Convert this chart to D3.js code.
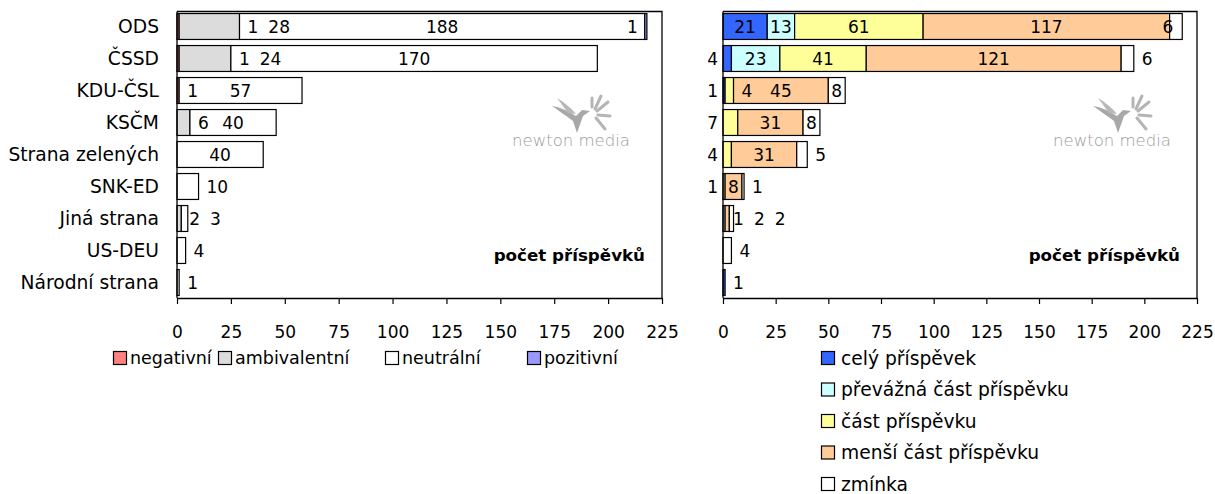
<!DOCTYPE html>
<html>
<head>
<meta charset="utf-8">
<script src="https://cdn.jsdelivr.net/npm/d3@7"></script>
<style>
  body { margin: 0; background: #fff; }
  svg { display: block; font-family: 'DejaVu Sans', sans-serif; }
</style>
</head>
<body>
<svg id="chart" width="1215" height="494"></svg>
<script>
// strany
const categories = ['ODS', 'ČSSD', 'KDU-ČSL', 'KSČM', 'Strana zelených', 'SNK-ED', 'Jiná strana', 'US-DEU', 'Národní strana']

// levý graf - vyznění
const toneNames = ['negativní', 'ambivalentní', 'neutrální', 'pozitivní']
const toneColors = ['#ff8080', '#dcdcdc', '#ffffff', '#9999ff']
const negativni = [1, 1, 1, 0, 0, 0, 0, 0, 0]
const ambivalentni = [28, 24, 0, 6, 0, 0, 2, 0, 0]
const neutralni = [188, 170, 57, 40, 40, 10, 3, 4, 1]
const pozitivni = [1, 0, 0, 0, 0, 0, 0, 0, 0]

// pravý graf - rozsah
const extentNames = ['celý příspěvek', 'převážná část příspěvku', 'část příspěvku', 'menší část příspěvku', 'zmínka']
const extentColors = ['#3366ff', '#ccffff', '#ffff99', '#ffcc99', '#ffffff']
const cely = [21, 4, 1, 0, 0, 0, 0, 0, 1]
const prevazna = [13, 23, 0, 0, 0, 0, 1, 0, 0]
const cast = [61, 41, 4, 7, 4, 1, 0, 0, 0]
const mensi = [117, 121, 45, 31, 31, 8, 2, 0, 0]
const zminka = [6, 6, 8, 8, 5, 1, 2, 4, 0]

const xTicks = [0, 25, 50, 75, 100, 125, 150, 175, 200, 225]

const svg = d3.select('#chart')
const NUM_FS = 17
const TXT_FS = 18.7
const plotTop = 11.5
const plotBottom = 298

const y = d3.scaleBand()
  .domain(categories)
  .range([10.5, 298.5])
  .paddingInner(0.19)
  .paddingOuter(0.095)

function drawLogo(g, x0, y0) {
  const logo = g.append('g').attr('transform', `translate(${x0},${y0})`)
  const b = logo.append('g').attr('transform', 'translate(40,-52)').attr('fill', '#a8a8a8')
  // ptáček
  b.append('path').attr('d', 'M0,12 C8,13 16,17 24,22 L30,16 L38,17 L31,22 C29,28 27,33 25,39 L21,27 C14,22 6,16 0,12 Z')
  b.append('path').attr('d', 'M5,4 C12,8 18,13 24,20 L16,19 Z').attr('fill', '#b8b8b8')
  // jiskry
  const sparks = [[43, 15, 49, 2], [45, 17, 56, 8], [46, 21, 58, 22], [44, 24, 53, 35], [40, 13, 40, 4]]
  b.selectAll('line').data(sparks).join('line')
    .attr('x1', d => d[0]).attr('y1', d => d[1]).attr('x2', d => d[2]).attr('y2', d => d[3])
    .attr('stroke', '#b5b5b5').attr('stroke-width', 3).attr('stroke-linecap', 'round')
  logo.append('text')
    .attr('x', 0).attr('y', 0)
    .attr('fill', '#9c9c9c')
    .attr('font-size', 16)
    .attr('font-weight', 200)
    .attr('textLength', 118)
    .attr('lengthAdjust', 'spacingAndGlyphs')
    .text('newton media')
}

function layoutLabels(segs, x, opts) {
  const gap = 10
  const pad = 8
  const barStart = segs.length ? segs[0].x0 : 0
  const barEnd = segs.length ? segs[segs.length - 1].x1 : 0
  let cursor = -Infinity
  const out = []
  segs.forEach((s, i) => {
    const w = String(s.v).length * 0.636 * NUM_FS
    const width = s.x1 - s.x0
    let left
    if (s.k < opts.lead) {
      left = Math.max(opts.leadEnd + pad, cursor)
    } else if (width >= w + 5) {
      left = Math.max(s.x0 + width / 2 - w / 2, cursor)
    } else if (i === 0 && opts.outsideLeft && barEnd - barStart > 15) {
      left = s.x0 - 5 - w
    } else {
      left = Math.max(s.x1 + pad, cursor)
      if (left + w > x.range()[1] - 6) left = barEnd - 9 - w
    }
    out.push({ v: s.v, x: left + w / 2, cat: s.cat })
    cursor = left + w + gap
  })
  return out
}

function drawPanel(opts) {
  const x = d3.scaleLinear().domain([0, 225]).range([opts.x0, opts.x1])
  const g = svg.append('g')

  const table = categories.map((c, i) => {
    const row = { cat: c }
    opts.names.forEach((n, k) => { row[n] = opts.series[k][i] })
    return row
  })
  const stacked = d3.stack().keys(opts.names)(table)

  drawLogo(g, opts.logoX, 146)

  g.append('text')
    .attr('x', opts.x1 - 17)
    .attr('y', 261)
    .attr('text-anchor', 'end')
    .attr('font-size', 16.7)
    .attr('font-weight', 'bold')
    .text('počet příspěvků')

  // pruhy
  stacked.forEach((layer, k) => {
    g.append('g')
      .selectAll('rect')
      .data(layer.filter(d => d[1] - d[0] > 0))
      .join('rect')
      .attr('x', d => x(d[0]))
      .attr('y', d => y(d.data.cat))
      .attr('width', d => x(d[1]) - x(d[0]))
      .attr('height', y.bandwidth())
      .attr('fill', opts.colors[k])
      .attr('stroke', '#000')
      .attr('stroke-width', 1.2)
  })

  // popisky hodnot
  const labels = []
  table.forEach((row, i) => {
    const segs = []
    stacked.forEach((layer, k) => {
      const d = layer[i]
      if (d[1] - d[0] > 0) segs.push({ k, v: d[1] - d[0], x0: x(d[0]), x1: x(d[1]), cat: row.cat })
    })
    const leadEnd = x(d3.sum(opts.names.slice(0, opts.lead), n => row[n]))
    labels.push(...layoutLabels(segs, x, { lead: opts.lead, leadEnd, outsideLeft: opts.outsideLeft }))
  })
  g.append('g')
    .selectAll('text')
    .data(labels)
    .join('text')
    .attr('x', d => d.x)
    .attr('y', d => y(d.cat) + y.bandwidth() / 2)
    .attr('dy', '0.36em')
    .attr('text-anchor', 'middle')
    .attr('font-size', NUM_FS)
    .text(d => d.v)

  // rámeček
  g.append('path')
    .attr('d', `M${opts.x0},${plotTop}H${opts.x1}V${plotBottom}`)
    .attr('fill', 'none')
    .attr('stroke', '#000')
    .attr('stroke-width', 1.3)
  g.append('line')
    .attr('x1', opts.x0).attr('x2', opts.x0)
    .attr('y1', plotTop).attr('y2', plotBottom)
    .attr('stroke', '#000').attr('stroke-width', 1.3)

  const axis = g.append('g')
    .attr('transform', `translate(0,${plotBottom})`)
    .call(d3.axisBottom(x).tickValues(xTicks).tickSize(6).tickPadding(22).tickSizeOuter(0))
    .attr('font-size', NUM_FS)
    .attr('font-family', 'DejaVu Sans, sans-serif')
  axis.select('.domain').attr('stroke', '#000').attr('stroke-width', 1.3)
  axis.selectAll('.tick line').attr('stroke', '#000').attr('stroke-width', 1.2)
  axis.selectAll('.tick text').attr('fill', '#000')

  return x
}

drawPanel({
  x0: 177, x1: 662, names: toneNames, colors: toneColors,
  series: [negativni, ambivalentni, neutralni, pozitivni],
  lead: 2, outsideLeft: false, logoX: 512
})

drawPanel({
  x0: 723, x1: 1197, names: extentNames, colors: extentColors,
  series: [cely, prevazna, cast, mensi, zminka],
  lead: 0, outsideLeft: true, logoX: 1053
})

// názvy stran
svg.append('g')
  .selectAll('text')
  .data(categories)
  .join('text')
  .attr('x', 159)
  .attr('y', d => y(d) + y.bandwidth() / 2)
  .attr('dy', '0.36em')
  .attr('text-anchor', 'end')
  .attr('font-size', TXT_FS)
  .text(d => d)

// legenda vlevo
const legendLeftX = [113, 218, 385, 527]
const legL = svg.append('g')
  .selectAll('g')
  .data(toneNames)
  .join('g')
  .attr('transform', (d, i) => `translate(${legendLeftX[i]},358)`)
legL.append('rect')
  .attr('x', 0.5).attr('y', -6.5).attr('width', 13).attr('height', 13)
  .attr('fill', (d, i) => toneColors[i]).attr('stroke', '#000').attr('stroke-width', 1.2)
legL.append('text')
  .attr('x', 17).attr('dy', '0.36em')
  .attr('font-size', 17.5)
  .text(d => d)

// legenda vpravo
const legR = svg.append('g')
  .selectAll('g')
  .data(extentNames)
  .join('g')
  .attr('transform', (d, i) => `translate(821,${358 + i * 31.5})`)
legR.append('rect')
  .attr('x', 0.5).attr('y', -6.5).attr('width', 13).attr('height', 13)
  .attr('fill', (d, i) => extentColors[i]).attr('stroke', '#000').attr('stroke-width', 1.2)
legR.append('text')
  .attr('x', 20).attr('dy', '0.36em')
  .attr('font-size', TXT_FS)
  .text(d => d)
</script>
</body>
</html>
